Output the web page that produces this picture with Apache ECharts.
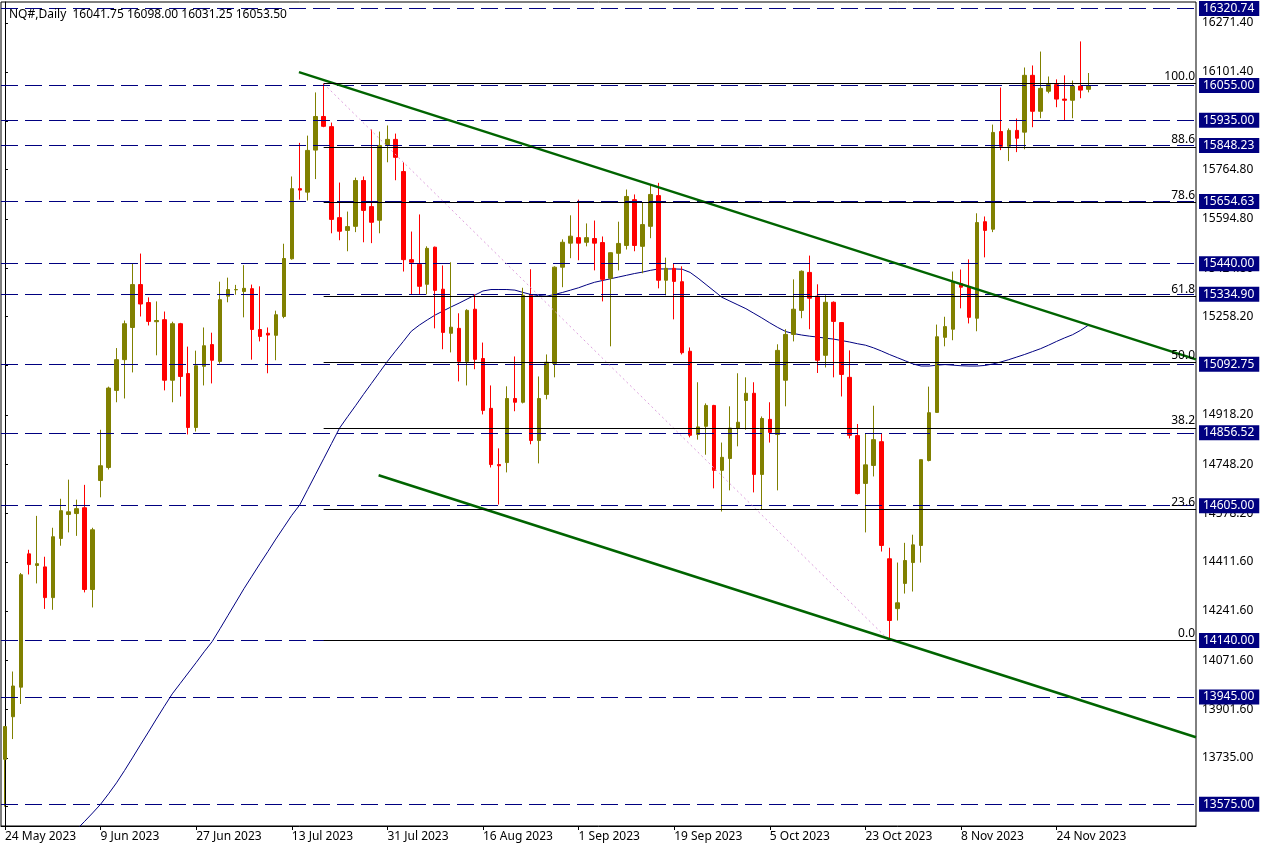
<!DOCTYPE html>
<html>
<head>
<meta charset="utf-8">
<script src="https://cdn.jsdelivr.net/npm/echarts@6/dist/echarts.min.js"></script>
<style>
html,body{margin:0;padding:0;background:#fff;}
#chart{width:1267px;height:850px;}
</style>
</head>
<body>
<div id="chart"></div>
<script>
// ---- categories (daily bars) ----
const dates = [
'24 May 2023','25 May 2023','26 May 2023','29 May 2023','30 May 2023','31 May 2023',
'1 Jun 2023','2 Jun 2023','5 Jun 2023','6 Jun 2023','7 Jun 2023','8 Jun 2023','9 Jun 2023','12 Jun 2023','13 Jun 2023','14 Jun 2023','15 Jun 2023','16 Jun 2023','19 Jun 2023','20 Jun 2023','21 Jun 2023','22 Jun 2023','23 Jun 2023','26 Jun 2023','27 Jun 2023','28 Jun 2023','29 Jun 2023','30 Jun 2023',
'3 Jul 2023','4 Jul 2023','5 Jul 2023','6 Jul 2023','7 Jul 2023','10 Jul 2023','11 Jul 2023','12 Jul 2023','13 Jul 2023','14 Jul 2023','17 Jul 2023','18 Jul 2023','19 Jul 2023','20 Jul 2023','21 Jul 2023','24 Jul 2023','25 Jul 2023','26 Jul 2023','27 Jul 2023','28 Jul 2023','31 Jul 2023',
'1 Aug 2023','2 Aug 2023','3 Aug 2023','4 Aug 2023','7 Aug 2023','8 Aug 2023','9 Aug 2023','10 Aug 2023','11 Aug 2023','14 Aug 2023','15 Aug 2023','16 Aug 2023','17 Aug 2023','18 Aug 2023','21 Aug 2023','22 Aug 2023','23 Aug 2023','24 Aug 2023','25 Aug 2023','28 Aug 2023','29 Aug 2023','30 Aug 2023','31 Aug 2023',
'1 Sep 2023','4 Sep 2023','5 Sep 2023','6 Sep 2023','7 Sep 2023','8 Sep 2023','11 Sep 2023','12 Sep 2023','13 Sep 2023','14 Sep 2023','15 Sep 2023','18 Sep 2023','19 Sep 2023','20 Sep 2023','21 Sep 2023','22 Sep 2023','25 Sep 2023','26 Sep 2023','27 Sep 2023','28 Sep 2023','29 Sep 2023',
'2 Oct 2023','3 Oct 2023','4 Oct 2023','5 Oct 2023','6 Oct 2023','9 Oct 2023','10 Oct 2023','11 Oct 2023','12 Oct 2023','13 Oct 2023','16 Oct 2023','17 Oct 2023','18 Oct 2023','19 Oct 2023','20 Oct 2023','23 Oct 2023','24 Oct 2023','25 Oct 2023','26 Oct 2023','27 Oct 2023','30 Oct 2023','31 Oct 2023',
'1 Nov 2023','2 Nov 2023','3 Nov 2023','6 Nov 2023','7 Nov 2023','8 Nov 2023','9 Nov 2023','10 Nov 2023','13 Nov 2023','14 Nov 2023','15 Nov 2023','16 Nov 2023','17 Nov 2023','20 Nov 2023','21 Nov 2023','22 Nov 2023','23 Nov 2023','24 Nov 2023','27 Nov 2023','28 Nov 2023','29 Nov 2023','30 Nov 2023'
];
const emptySlotsRight = 13; // chart shift area, no bars

// ---- OHLC values: [open, close, low, high] ----
const ohlc = [
[13730,13843,13567,13845],[13877,13983,13800,14033],[13979,14367,13921,14373],[14439,14402,14368,14453],
[14399,14405,14337,14570],[14394,14288,14249,14429],[14288,14498,14246,14529],[14492,14588,14467,14629],
[14575,14584,14513,14695],[14578,14595,14501,14626],[14598,14316,14306,14677],[14316,14522,14254,14529],
[14692,14743,14634,14867],[14737,15011,14730,15016],[15003,15109,14962,15149],[15109,15233,14975,15244],
[15220,15368,15065,15439],[15368,15301,15258,15475],[15306,15241,15227,15324],[15240,15244,15124,15310],
[15247,15038,15003,15275],[15038,15233,14962,15240],[15233,15051,14982,15236],[15061,14875,14851,15154],
[14875,15088,14861,15140],[15086,15157,15020,15220],[15161,15107,15027,15202],[15103,15316,15095,15378],
[15328,15351,15307,15392],[15350,15351,15333,15367],[15344,15355,15255,15435],[15354,15213,15109,15368],
[15213,15189,15172,15362],[15200,15194,15062,15220],[15193,15264,15107,15278],[15258,15458,15252,15509],
[15457,15699,15454,15741],[15699,15694,15661,15857],[15687,15831,15658,15882],[15832,15948,15732,16031],
[15948,15914,15911,16061],[15913,15593,15545,15927],[15599,15552,15521,15720],[15555,15568,15483,15620],
[15569,15727,15549,15737],[15727,15624,15514,15741],[15637,15583,15511,15903],[15590,15848,15545,15896],
[15849,15869,15790,15917],[15869,15807,15728,15889],[15758,15454,15413,15790],[15454,15445,15334,15551],
[15438,15362,15334,15610],[15369,15493,15334,15500],[15497,15348,15217,15499],[15352,15203,15145,15434],
[15200,15221,15134,15445],[15217,15103,15034,15269],[15103,15279,15020,15283],[15283,15110,15076,15334],
[15113,14934,14920,15168],[14941,14747,14737,15020],[14747,14743,14609,14803],[14754,14975,14720,15017],
[14975,14962,14931,15120],[14962,15331,14958,15357],[15331,14830,14817,15421],[14830,14975,14751,15051],
[14989,15100,14972,15127],[15096,15428,15048,15431],[15428,15514,15359,15524],[15511,15535,15459,15607],
[15530,15511,15452,15661],[15514,15530,15500,15579],[15527,15511,15417,15589],[15513,15386,15310,15534],
[15390,15478,15155,15479],[15476,15510,15417,15585],[15503,15672,15489,15696],[15661,15503,15483,15679],
[15500,15575,15407,15651],[15569,15679,15528,15713],[15675,15383,15355,15719],[15383,15424,15331,15461],
[15424,15379,15248,15442],[15378,15133,15127,15431],[15138,14848,14841,15151],[14851,14877,14833,15031],
[14879,14951,14781,14958],[14951,14727,14665,14953],[14727,14772,14585,14823],[14768,14873,14658,14948],
[14873,14893,14810,15062],[14968,14993,14867,15048],[14993,14713,14651,15031],[14713,14906,14591,14913],
[14903,14858,14823,14962],[14851,15141,14658,15162],[15038,15196,14948,15214],[15196,15283,15172,15386],
[15279,15414,15252,15417],[15410,15321,15214,15468],[15328,15107,15063,15369],[15124,15307,15082,15331],
[15307,15241,15048,15310],[15237,15058,14982,15238],[15048,14848,14837,15141],[14847,14647,14644,14887],
[14682,14746,14513,14855],[14744,14833,14706,14950],[14826,14468,14447,14855],[14422,14209,14140,14460],
[14250,14270,14209,14409],[14337,14416,14302,14477],[14409,14470,14309,14505],[14468,14764,14409,14764],
[14761,14926,14758,15016],[14927,15188,14926,15230],[15186,15223,15155,15257],[15214,15378,15176,15413],
[15371,15359,15286,15420],[15359,15255,15234,15455],[15252,15582,15207,15614],[15585,15555,15462,15603],
[15559,15893,15549,15920],[15896,15845,15832,16048],[15845,15900,15794,15907],[15900,15873,15825,15941],
[15894,16090,15835,16117],[16090,15966,15911,16124],[15966,16045,15942,16172],[16035,16058,16028,16086],
[16058,16008,15980,16076],[16008,16004,15935,16090],[16004,16053,15942,16072],[16053,16039,16011,16207],
[16041.75,16053.50,16031.25,16098.00]
];

// ---- moving average ----
const movingAvg = [
null,null,null,null,null,null,null,null,
13452,13488,13516,13545,13575,13611,13649,13691,13735,13780,13824,13869,13913,13956,13992,14028,14064,14101,14136,
14181,14227,14273,14319,14362,14405,14447,14490,14531,14572,14608,14661,14714,14767,14820,14873,14912,14950,14989,
15027,15065,15103,15138,15172,15207,15228,15246,15263,15277,15291,15304,15318,15332,15346,15351,15351,15351,15349,
15341,15334,15330,15328,15334,15341,15349,15357,15367,15376,15382,15388,15394,15400,15406,15411,15417,15422,15422,
15422,15421,15410,15390,15368,15346,15324,15311,15298,15285,15269,15253,15236,15220,15206,15199,15194,15190,15187,
15183,15180,15175,15170,15164,15159,15150,15139,15127,15116,15105,15094,15087,15087,15090,15092,15090,15088,15087,
15087,15089,15094,15101,15109,15118,15127,15137,15147,15159,15172,15184,15195,15210,15228
];

// ---- horizontal price levels (dashed, labelled on the price scale) ----
const priceLevels = [16320.74,16055.00,15935.00,15848.23,15654.63,15440.00,15334.90,15092.75,14856.52,14605.00,14140.00,13945.00,13575.00];

// ---- price-scale tick labels ----
const priceTicks = [16271.40,16101.40,15931.40,15764.80,15594.80,15424.80,15258.20,15088.20,14918.20,14748.20,14578.20,14411.60,14241.60,14071.60,13901.60,13735.00,13568.40];

// ---- Fibonacci retracement (from bar 40 high to bar 111 low) ----
const fibNames  = ['100.0','88.6','78.6','61.8','50.0','38.2','23.6','0.0'];
const fibValues = [16061,15842.9,15650.9,15327.2,15100.5,14873.8,14593.4,14140];
const fibStartBar = 40;
const fibDiagonal = [[40,16061],[111,14140]];

// ---- trend lines [barIndex, price] ----
const trendUpper = [[36.9,16101],[149.5,15110]];
const trendLower = [[46.9,14710],[149.5,13806]];

const titleText = 'NQ#,Daily  16041.75 16098.00 16031.25 16053.50';

// ---------------------------------------------------------------
const FONT = 'Noto Sans';
const nBars = dates.length;
const xCats = dates.concat(Array.from({length: emptySlotsRight}, (_, i) => '__pad' + i));
const nCats = xCats.length;

const chart = echarts.init(document.getElementById('chart'), null, {renderer: 'canvas'});

const option = {
  animation: false,
  backgroundColor: '#ffffff',
  title: {
    text: titleText, left: 4, top: 4,
    textStyle: {fontFamily: FONT, fontSize: 12, fontWeight: 'normal', color: '#000'}
  },
  grid: {left: 1, top: 2, right: 71, bottom: 24, show: true, borderColor: '#000', borderWidth: 1, backgroundColor: 'transparent'},
  xAxis: [
    {
      type: 'category', data: xCats, boundaryGap: true,
      axisLine: {show: true, lineStyle: {color: '#000', width: 1}},
      axisTick: {show: true, alignWithLabel: true, length: 4, lineStyle: {color: '#000'},
        interval: (i) => i % 12 === 0 && i < nBars},
      axisLabel: {
        interval: (i) => i % 12 === 0 && i < nBars,
        formatter: (v, i) => (i < nBars ? v : ''),
        align: 'left', margin: 5, fontFamily: FONT, fontSize: 12, color: '#000'
      },
      splitLine: {show: false}
    },
    {type: 'value', min: -0.5, max: nCats - 0.5, show: false}
  ],
  yAxis: {
    type: 'value', position: 'right', min: 13500, max: 16343, scale: true,
    axisLine: {show: true, lineStyle: {color: '#000', width: 1}},
    axisTick: {show: true, length: 3, customValues: priceTicks, lineStyle: {color: '#000'}},
    axisLabel: {customValues: priceTicks, formatter: (v) => Number(v).toFixed(2), margin: 6,
      fontFamily: FONT, fontSize: 12, color: '#000'},
    splitLine: {show: false}
  },
  series: [
    {
      type: 'candlestick', name: 'NQ#', xAxisIndex: 0, data: ohlc, barWidth: 4, z: 2,
      itemStyle: {color: '#808000', color0: '#ff0000', borderColor: '#808000', borderColor0: '#ff0000', borderWidth: 1},
      markLine: {
        silent: true, symbol: ['none', 'none'], animation: false, z: 3,
        lineStyle: {color: '#000080', type: [17, 7], width: 1},
        label: {
          show: true, position: 'end', distance: 3,
          formatter: (p) => Number(p.value).toFixed(2),
          backgroundColor: '#000080', color: '#ffffff', padding: [1, 5, 1, 4],
          fontFamily: FONT, fontSize: 12, lineHeight: 13
        },
        emphasis: {disabled: true},
        data: priceLevels.map(v => ({yAxis: v}))
      }
    },
    {
      type: 'line', name: 'MA', xAxisIndex: 0, data: movingAvg, symbol: 'none', z: 2,
      lineStyle: {color: '#000080', width: 1}, silent: true
    },
    {
      type: 'line', name: 'fib', xAxisIndex: 1, data: fibDiagonal, symbol: 'none', z: 3,
      lineStyle: {color: '#dda0dd', width: 1, type: [2, 3]}, silent: true,
      markLine: {
        silent: true, symbol: ['none', 'none'], animation: false,
        lineStyle: {color: '#000', type: 'solid', width: 1},
        label: {show: true, position: 'insideEndTop', distance: 1, formatter: '{b}',
          fontFamily: FONT, fontSize: 12, color: '#000'},
        emphasis: {disabled: true},
        data: fibValues.map((v, k) => [
          {name: fibNames[k], coord: [fibStartBar, v]},
          {coord: [nCats - 0.5, v]}
        ])
      }
    },
    {
      type: 'line', name: 'trendUpper', xAxisIndex: 1, data: trendUpper, symbol: 'none', z: 4,
      lineStyle: {color: '#006400', width: 2.5}, silent: true
    },
    {
      type: 'line', name: 'trendLower', xAxisIndex: 1, data: trendLower, symbol: 'none', z: 4,
      lineStyle: {color: '#006400', width: 2.5}, silent: true
    }
  ]
};
chart.setOption(option);
</script>
</body>
</html>
